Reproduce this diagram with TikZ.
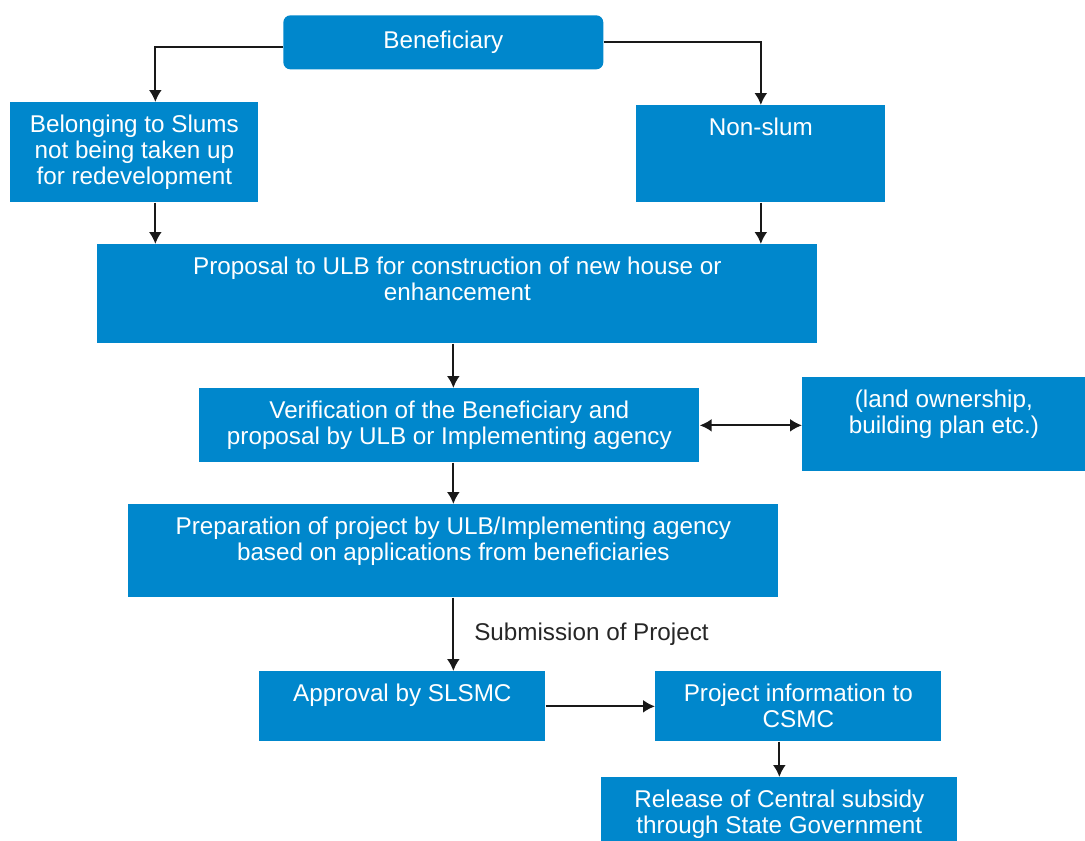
\documentclass[tikz,border=0pt]{standalone}
\usepackage{fontspec}
\setmainfont{Liberation Sans}
\usetikzlibrary{arrows.meta,positioning,calc}
\definecolor{cblk}{RGB}{0,135,204}
\newlength{\pxu}
\setlength{\pxu}{0.02cm}
\newcommand{\blktxt}[3]{\parbox[c][\dimexpr #2\pxu\relax][t]{\dimexpr #1\pxu\relax}{\centering\vspace*{7pt}#3\par}}
\tikzset{
  blk/.style={fill=cblk, text=white, inner sep=0pt, anchor=north west, font=\fontsize{13.8}{14.8}\selectfont},
  arr/.style={-{Latex[length=2.4mm,width=2.6mm]}, line width=1.2pt, black!90},
}

\begin{document}
\begin{tikzpicture}[x=0.02cm,y=-0.02cm]
  \useasboundingbox (0,0) rectangle (1085,841);
  % boxes
  \node[blk, rounded corners=4pt, minimum width=6.4cm, minimum height=1.08cm] (benef) at (283,15) {Beneficiary};
  \node[blk] (slums) at (10,102) {\blktxt{248}{100}{Belonging to Slums\\ not being taken up\\ for redevelopment}};
  \node[blk] (nonslum) at (636,105) {\blktxt{249}{97}{Non-slum}};
  \node[blk] (prop) at (97,244) {\blktxt{720}{99}{Proposal to ULB for construction of new house or\\ enhancement}};
  \node[blk] (verif) at (199,388) {\blktxt{500}{74}{Verification of the Beneficiary and\\ proposal by ULB or Implementing agency}};
  \node[blk] (land) at (802,377) {\blktxt{283}{94}{(land ownership,\\ building plan etc.)}};
  \node[blk] (prep) at (128,504) {\blktxt{650}{93}{Preparation of project by ULB/Implementing agency\\ based on applications from beneficiaries}};
  \node[blk] (appr) at (259,671) {\blktxt{286}{70}{Approval by SLSMC}};
  \node[blk] (csmc) at (655,671) {\blktxt{286}{70}{Project information to\\ CSMC}};
  \node[blk] (release) at (601,777) {\blktxt{356}{80}{Release of Central subsidy\\ through State Government}};

  % connectors
  \draw[arr] ([yshift=-0.1cm]benef.west) -| ([xshift=0.42cm]slums.north);
  \draw[arr] (benef.east) -| (nonslum.north);
  \draw[arr] ([xshift=0.42cm]slums.south) -- ([xshift=0.42cm]slums.south |- prop.north);
  \draw[arr] (nonslum.south) -- (nonslum.south |- prop.north);
  \draw[arr] (prep.north |- prop.south) -- (prep.north |- verif.north);
  \draw[arr] (prep.north |- verif.south) -- (prep.north);
  \draw[arr] (prep.south) -- (prep.south |- appr.north)
    node[midway, right, xshift=0.28cm, font=\fontsize{13.8}{14.8}\selectfont, text=black!85] {Submission of Project};
  \draw[arr] (appr.east) -- (csmc.west);
  \draw[arr] (release.north |- csmc.south) -- (release.north);
  \draw[arr, {Latex[length=2.4mm,width=2.6mm]}-{Latex[length=2.4mm,width=2.6mm]}] (verif.east) -- (verif.east -| land.west);
\end{tikzpicture}
\end{document}
